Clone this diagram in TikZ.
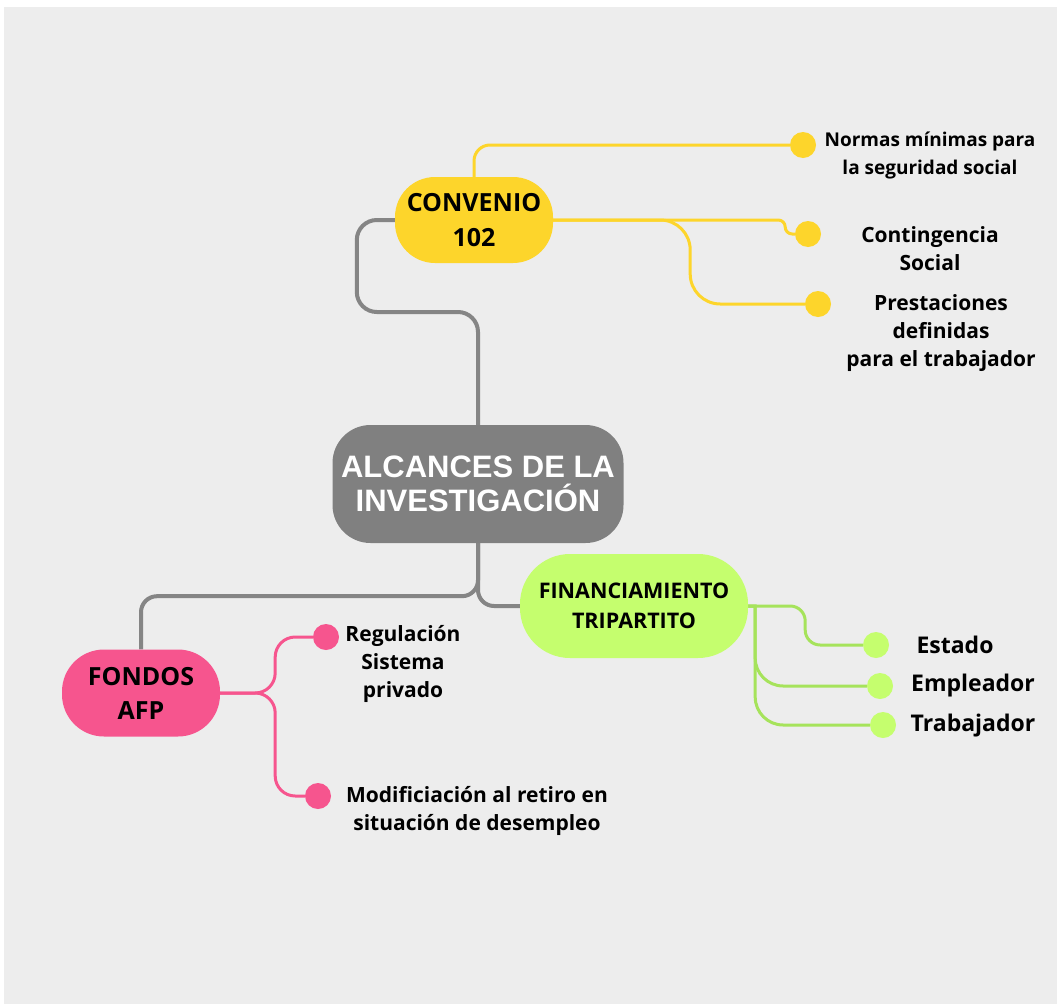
\documentclass[tikz,border=0pt]{standalone}
\usepackage{fontspec}
\setmainfont{Open Sans}
\newfontfamily\alcfont{Liberation Sans}
\usetikzlibrary{positioning,backgrounds}

\definecolor{fondo}{HTML}{EDEDED}
\definecolor{gris}{HTML}{808080}
\definecolor{grislinea}{HTML}{858585}
\definecolor{amarillo}{HTML}{FDD52B}
\definecolor{verde}{HTML}{C5FE6E}
\definecolor{verdelinea}{HTML}{A6E35B}
\definecolor{rosa}{HTML}{F6558E}

\tikzset{
	rama/.style={rounded corners=40pt, align=center, font=\bfseries, inner sep=0pt},
	punto/.style={circle, minimum size=26pt, inner sep=0pt},
	hoja/.style={align=center, font=\bfseries\fontsize{21}{28}\selectfont},
	glinea/.style={draw=grislinea, line width=4pt},
	ylinea/.style={draw=amarillo, line width=3pt},
	vlinea/.style={draw=verdelinea, line width=3pt},
	rlinea/.style={draw=rosa, line width=3pt}
}

\begin{document}
\begin{tikzpicture}[x=1pt,y=-1pt]
				\useasboundingbox (0,0) rectangle (1057,1004);
				
				% nodos principales
				\node [rama,
				fill=gris,
				rounded corners=38pt,
				minimum width=291pt,
				minimum height=118pt,
				text=white,
				font=\alcfont\bfseries\fontsize{31}{34}\selectfont] (central) at (478,484) {ALCANCES DE LA\\INVESTIGACIÓN};
				
				\node [rama,
				fill=amarillo,
				minimum width=158pt,
				minimum height=86pt,
				font=\bfseries\fontsize{25}{35}\selectfont] (conv) at (474,220) {CONVENIO\\102};
				
				\node [rama,
				fill=verde,
				rounded corners=50pt,
				minimum width=228pt,
				minimum height=104pt,
				font=\bfseries\fontsize{21.5}{30}\selectfont] (fin) at (634,606) {FINANCIAMIENTO\\TRIPARTITO};
				
				\node [rama,
				fill=rosa,
				rounded corners=42pt,
				minimum width=158pt,
				minimum height=87pt,
				font=\bfseries\fontsize{25}{34}\selectfont] (afp) at (141,693) {FONDOS\\AFP};
				
				% puntos
				\node [punto, fill=amarillo] (d1) at (803,145) {};
				\node [punto, fill=amarillo] (d2) at (808,234) {};
				\node [punto, fill=amarillo] (d3) at (818,304) {};
				\node [punto, fill=verde] (e1) at (876,645) {};
				\node [punto, fill=verde] (e2) at (880,686) {};
				\node [punto, fill=verde] (e3) at (883,725) {};
				\node [punto, fill=rosa] (p1) at (326,637) {};
				\node [punto, fill=rosa] (p2) at (318,796) {};
				
				% textos
				\node [hoja, font=\bfseries\fontsize{19}{28}\selectfont] (t1) at (930,156) {Normas mínimas para\\la seguridad social};
				\node [hoja] (t2) at (930,249) {Contingencia\\Social};
				\node [hoja] (t3) at (941,333) {Prestaciones\\definidas\\para el trabajador};
				\node [hoja, font=\bfseries\fontsize{23}{28}\selectfont] (t4) at (955,645) {Estado};
				\node [hoja, font=\bfseries\fontsize{23}{28}\selectfont] (t5) at (973,686) {Empleador};
				\node [hoja, font=\bfseries\fontsize{23}{28}\selectfont] (t6) at (973,726) {Trabajador};
				\node [hoja] (t7) at (403,664) {Regulación\\Sistema\\privado};
				\node [hoja] (t8) at (477,811) {Modificiación al retiro en\\situación de desempleo};
				
				% conectores y fondo
				\begin{pgfonlayer}{background}
				\fill[white] (0,0) rectangle (1057,1004);
				\fill[fondo] (4,7) rectangle (1057,1004);
				
				\draw [glinea, rounded corners=20pt] (conv.west) -- ++(-38,0) -- ++(0,92) -| (central.north);
				\draw [glinea, rounded corners=16pt] (central.south) |- (fin.west);
				\draw [glinea, rounded corners=16pt] (central.south) -- ++(0,53) -| (afp.north);
				
				\draw [ylinea, rounded corners=16pt] (conv.north) |- (d1);
				\draw [ylinea, rounded corners=7pt] (conv.east) -- ++(232,0) |- (d2);
				\draw [ylinea, rounded corners=30pt] (conv.east) -- ++(137,0) |- (d3);
				
				\draw [vlinea, rounded corners=15pt] (fin.east) -- ++(57,0) |- (e1);
				\draw [vlinea] (fin.east) -- ++(7,0) -- ++(0,40) [rounded corners=28pt] |- (e2);
				\draw [vlinea] (fin.east) -- ++(7,0) -- ++(0,40) [rounded corners=28pt] |- (e3);
				
				\draw [rlinea, rounded corners=20pt] (afp.east) -- ++(55,0) |- (p1);
				\draw [rlinea, rounded corners=20pt] (afp.east) -- ++(55,0) |- (p2);
				\end{pgfonlayer}
			\end{tikzpicture}
\end{document}
